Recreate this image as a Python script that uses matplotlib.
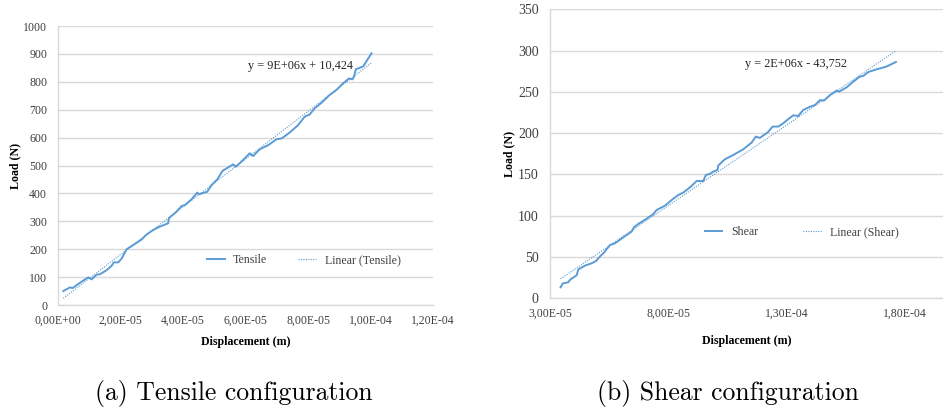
import matplotlib
matplotlib.use("Agg")
import matplotlib.pyplot as plt
import numpy as np
from matplotlib.ticker import FuncFormatter, MultipleLocator

# Tensile test
tensile_disp = [1.6e-6, 3.7e-6, 4.6e-6, 7.5e-6, 9.6e-6, 1.07e-5, 1.23e-5, 1.33e-5,
                1.55e-5, 1.71e-5, 1.78e-5, 1.92e-5, 2.03e-5, 2.19e-5, 2.40e-5, 2.67e-5,
                2.83e-5, 3.04e-5, 3.25e-5, 3.52e-5, 3.54e-5, 3.79e-5, 3.95e-5, 4.05e-5,
                4.27e-5, 4.45e-5, 4.51e-5, 4.77e-5, 4.91e-5, 5.09e-5, 5.26e-5, 5.60e-5,
                5.69e-5, 5.92e-5, 6.13e-5, 6.24e-5, 6.45e-5, 6.72e-5, 6.99e-5, 7.15e-5,
                7.41e-5, 7.68e-5, 7.89e-5, 8.05e-5, 8.21e-5, 8.43e-5, 8.69e-5, 8.91e-5,
                9.12e-5, 9.31e-5, 9.42e-5, 9.46e-5, 9.53e-5, 9.76e-5, 1.003e-4]
tensile_load = [50, 63, 61, 84, 99, 92, 109, 110,
                125, 141, 153, 153, 167, 200, 215, 235,
                253, 269, 281, 293, 311, 335, 355, 358,
                379, 403, 397, 406, 430, 450, 481, 504,
                496, 520, 544, 534, 558, 573, 594, 597,
                618, 645, 675, 683, 705, 725, 753, 771,
                795, 812, 809, 816, 845, 855, 902]
tensile_fit = (8.55e6, 10.424)   # slope, intercept of the Excel trendline

# Shear test
shear_disp = [3.45e-5, 3.54e-5, 3.77e-5, 3.87e-5, 4.13e-5, 4.20e-5, 4.48e-5, 4.76e-5,
              4.94e-5, 5.11e-5, 5.28e-5, 5.54e-5, 5.75e-5, 6.10e-5, 6.45e-5, 6.55e-5,
              6.77e-5, 7.01e-5, 7.37e-5, 7.51e-5, 7.86e-5, 8.14e-5, 8.42e-5, 8.63e-5,
              8.92e-5, 9.20e-5, 9.48e-5, 9.59e-5, 9.76e-5, 9.90e-5, 1.008e-4, 1.011e-4,
              1.039e-4, 1.075e-4, 1.117e-4, 1.152e-4, 1.170e-4, 1.187e-4, 1.222e-4, 1.241e-4,
              1.265e-4, 1.286e-4, 1.307e-4, 1.328e-4, 1.349e-4, 1.370e-4, 1.399e-4, 1.420e-4,
              1.441e-4, 1.458e-4, 1.483e-4, 1.511e-4, 1.522e-4, 1.554e-4, 1.582e-4, 1.610e-4,
              1.624e-4, 1.645e-4, 1.680e-4, 1.722e-4, 1.762e-4]
shear_load = [13.3, 18, 19.4, 23, 27.9, 35, 39.6, 42.4,
              45, 50.5, 55.3, 64.6, 66.6, 73.9, 80.7, 86,
              90.8, 94.9, 102.1, 107, 112.2, 119, 125, 128,
              134.4, 142.1, 142, 149.4, 150.6, 153.4, 155.4, 160.7,
              168.3, 173.6, 180.5, 188.5, 195.8, 194.2, 201.4, 208,
              208, 212, 217, 221.6, 220.8, 228, 232, 234,
              240, 239.4, 246, 251.5, 250.3, 255.5, 262.4, 268.5,
              269.3, 274, 277.3, 280.6, 286.2]
shear_fit = (1.95e6, -43.752)

_BLUE = "#5b9bd5"
_GRID = "#d9d9d9"
_TICK = "#404040"
_SERIF = ["Liberation Serif", "DejaVu Serif"]
_CM = ["cmr10", "DejaVu Serif"]


def _sci(x, _pos=None):
    # Excel style: 2,00E-05 with a decimal comma
    return f"{x:.2E}".replace(".", ",")


def _style(ax, ysize):
    for side in ("top", "right"):
        ax.spines[side].set_visible(False)
    for side in ("left", "bottom"):
        ax.spines[side].set_color(_GRID)
        ax.spines[side].set_linewidth(1.0)
    ax.grid(axis="y", color=_GRID, linewidth=1.0)
    ax.set_axisbelow(True)
    ax.tick_params(length=0, colors=_TICK)
    ax.tick_params(axis="x", labelsize=8.5, pad=7)
    ax.tick_params(axis="y", labelsize=ysize, pad=8)
    ax.xaxis.set_major_formatter(FuncFormatter(_sci))


def _panel(ax, xs, ys, fit, name, eq, eq_xy, leg_xy, colsp, ysize, xpad, ypad):
    ax.plot(xs, ys, color=_BLUE, linewidth=1.4, label=name)
    fx = np.array([xs[0], xs[-1]])
    ax.plot(fx, fit[0] * fx + fit[1], color=_BLUE, linewidth=0.8,
            linestyle=(0, (1, 1.2)), label=f"Linear ({name})")
    ax.text(eq_xy[0], eq_xy[1], eq, transform=ax.transAxes, family=_SERIF,
            fontsize=8.8, color="#262626", ha="left", va="center")
    leg = ax.legend(loc="center", bbox_to_anchor=leg_xy, ncol=2, frameon=False,
                    handlelength=1.5, handletextpad=0.7, columnspacing=colsp,
                    prop={"family": _SERIF, "size": 8.6})
    for t in leg.get_texts():
        t.set_color(_TICK)
    ax.set_xlabel("Displacement (m)", family=_SERIF, fontsize=8.6,
                  fontweight="bold", labelpad=xpad)
    ax.set_ylabel("Load (N)", family=_SERIF, fontsize=8.6,
                  fontweight="bold", labelpad=ypad)
    _style(ax, ysize)


fig = plt.figure(figsize=(9.43, 4.15), dpi=100)
fig.patch.set_facecolor("white")

ax1 = fig.add_axes([0.0618, 0.265, 0.3974, 0.6723])
_panel(ax1, tensile_disp, tensile_load, tensile_fit, "Tensile",
       "y = 9E+06x + 10,424", (0.505, 0.855), (0.655, 0.16), 2.6, 8.6, 6.5, 1)
ax1.set_xlim(0, 1.2e-4)
ax1.set_ylim(0, 1000)
ax1.xaxis.set_major_locator(MultipleLocator(2e-5))
ax1.yaxis.set_major_locator(MultipleLocator(100))

ax2 = fig.add_axes([0.5832, 0.2812, 0.4168, 0.6964])
_panel(ax2, shear_disp, shear_load, shear_fit, "Shear",
       "y = 2E+06x - 43,752", (0.497, 0.81), (0.64, 0.23), 3.8, 10, 11, 2)
ax2.set_xlim(3e-5, 1.961e-4)
ax2.set_ylim(0, 350)
ax2.set_xticks([3e-5, 8e-5, 1.3e-4, 1.8e-4])
ax2.yaxis.set_major_locator(MultipleLocator(50))
for lab in ax1.get_xticklabels() + ax1.get_yticklabels() + \
        ax2.get_xticklabels() + ax2.get_yticklabels():
    lab.set_family(_SERIF)

fig.text(0.248, 0.052, "(a) Tensile configuration", family=_CM,
         fontsize=18.5, ha="center", va="center")
fig.text(0.772, 0.052, "(b) Shear configuration", family=_CM,
         fontsize=18.5, ha="center", va="center")

fig.savefig("out.png", dpi=100, facecolor="white")
